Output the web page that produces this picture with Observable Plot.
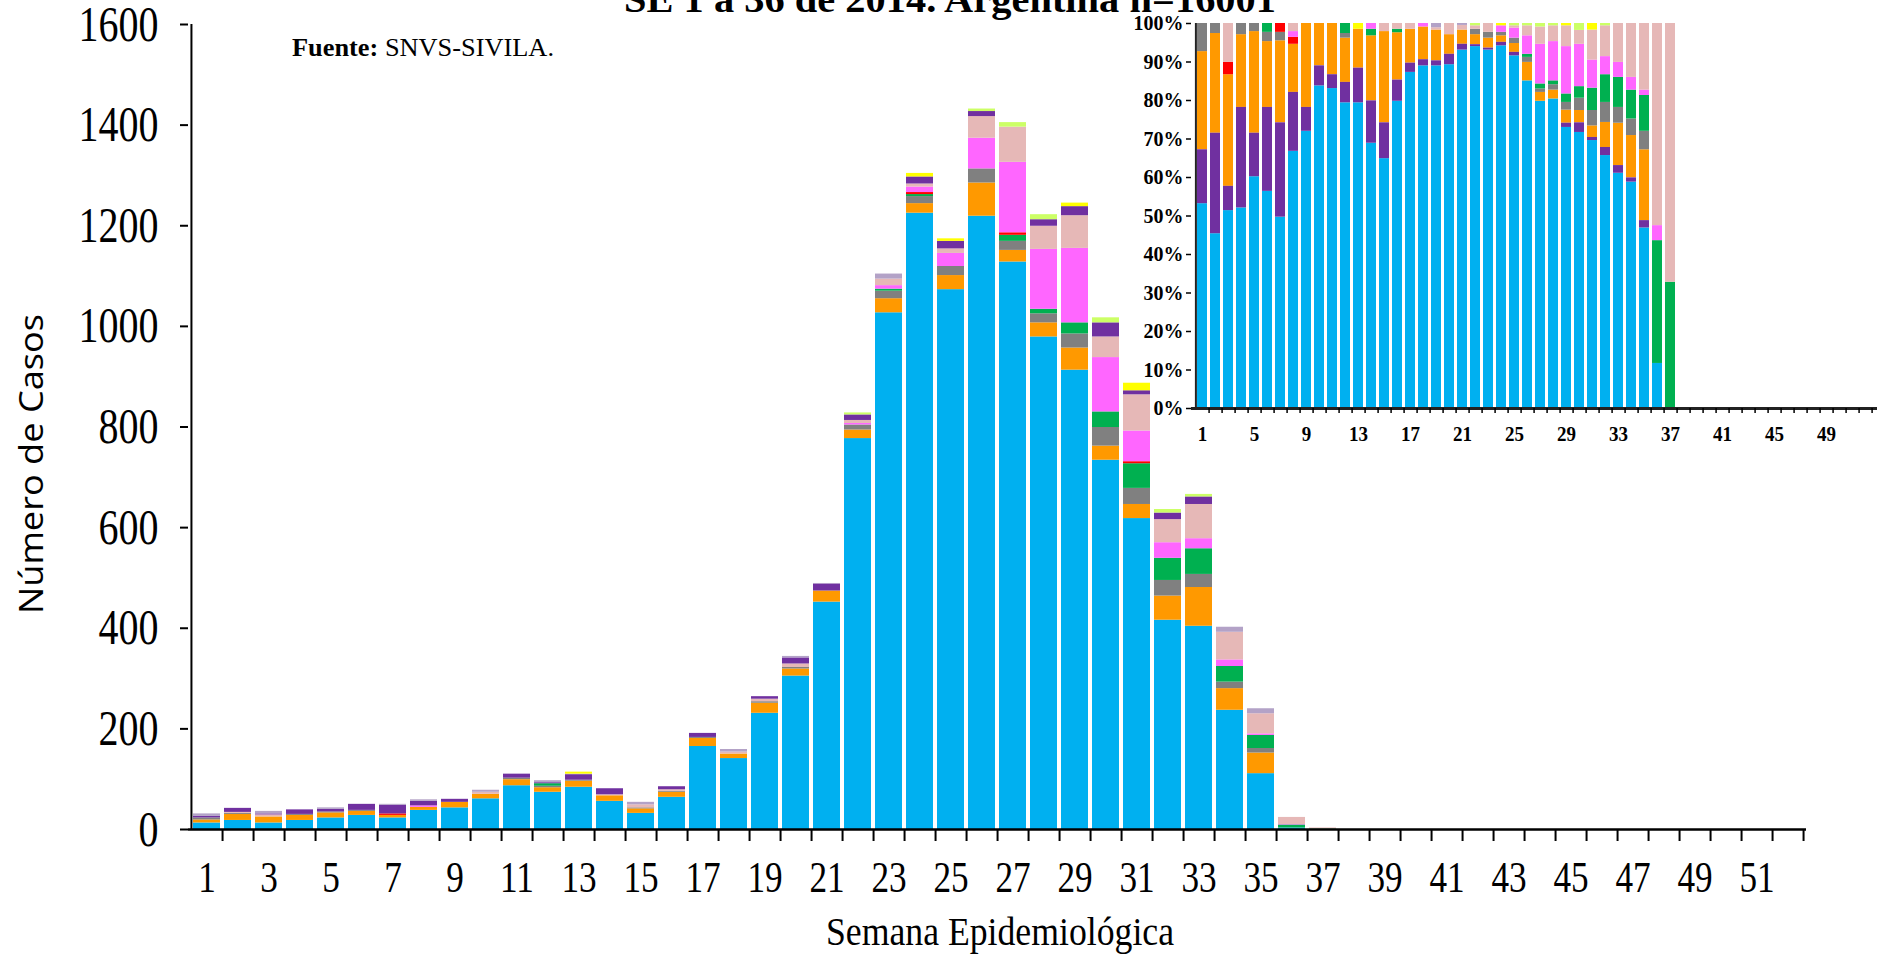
<!DOCTYPE html>
<html><head><meta charset="utf-8">
<script src="https://cdn.jsdelivr.net/npm/d3@7"></script>
<script src="https://cdn.jsdelivr.net/npm/@observablehq/plot@0.6"></script>
<style>
body{margin:0;background:#fff;}
#wrap{position:relative;width:1882px;height:954px;overflow:hidden;background:#fff;}
#wrap svg{position:absolute;top:0;}
</style></head><body><div id="wrap"></div>
<script>
// ---------- categories ----------
const weeks = d3.range(1, 53);                       // semanas epidemiológicas 1..52
const xLabels = d3.range(1, 53, 2);                  // 1,3,...,51
const insetXLabels = d3.range(1, 50, 4);             // 1,5,...,49
const yTicks = [0, 200, 400, 600, 800, 1000, 1200, 1400, 1600];
const pctTicks = [0, 10, 20, 30, 40, 50, 60, 70, 80, 90, 100];
const series = ["celeste","naranja","gris","verde","rojo","fucsia","rosa","violeta","lila","amarillo","verdeClaro"];
const insetOrder = ["celeste","violeta","naranja","gris","verde","rojo","fucsia","rosa","lila","amarillo","verdeClaro"];
const colors = ["#00B0F0","#FF9900","#808080","#00B050","#FF0000","#FF66FF","#E6B8B7","#7030A0","#B3A2C7","#FFFF00","#CCFF66"];

// ---------- main chart: cases per week (SE 1..37) ----------
const celeste   = [13,18,13,18,23,28,23,38,43,61,87,74,84,56,32,64,165,141,231,305,452,777,1027,1225,1073,1219,1128,979,913,734,618,416,404,237,111,3,0];
const naranja   = [6,12,12,10,10,8,5,6,11,9,12,9,12,11,9,10,16,9,20,14,22,17,28,19,28,66,23,28,44,28,28,48,77,43,41,0,0];
const gris      = [4,2,0,2,2,2,0,0,0,0,3,3,2,0,2,2,2,0,3,3,0,10,15,14,18,28,18,18,28,37,32,31,26,13,9,0,0];
const verde     = [0,0,0,0,0,0,0,0,0,0,0,5,0,0,0,0,0,0,0,0,0,0,4,4,0,0,12,9,22,31,49,44,51,31,26,6,1];
const rojo      = [0,0,0,0,0,0,3,0,0,0,0,0,0,0,0,0,0,0,0,0,0,0,0,4,0,0,5,0,0,0,4,0,0,0,0,0,0];
const fucsia    = [0,0,0,0,0,0,0,3,0,0,0,0,0,0,0,0,0,0,0,0,0,3,7,11,26,61,140,119,148,108,61,31,20,13,3,1,0];
const rosa      = [0,2,4,0,0,0,0,0,0,4,0,0,0,2,6,3,0,4,5,7,0,6,13,6,9,43,70,46,65,41,72,46,68,55,40,14,2];
const violeta   = [3,8,2,9,5,12,17,9,6,0,8,2,11,12,0,6,8,0,5,12,14,11,0,14,15,10,0,13,18,28,8,13,15,0,0,0,0];
const lila      = [5,0,5,0,3,0,2,3,0,4,0,4,1,0,5,0,0,5,0,3,1,0,10,0,0,0,0,0,0,0,0,0,0,10,10,0,0];
const amarillo  = [0,0,0,0,0,0,0,0,0,0,0,0,4,0,0,0,0,0,0,0,0,0,0,7,5,0,0,0,7,0,15,0,0,0,0,0,0];
const verdeClaro= [0,0,0,0,0,0,0,0,0,0,0,0,0,0,0,0,0,0,0,0,0,4,0,0,0,5,9,10,0,10,0,7,5,0,0,0,0];

// ---------- inset: % distribution per week (SE 1..37) ----------
const pctCeleste   = [53.2,45.4,51.4,52.1,60.2,56.4,49.7,66.8,72.0,83.8,83.1,79.4,79.4,68.9,64.9,79.8,87.3,89.0,89.0,89.3,93.1,94.0,93.1,94.2,91.6,85.1,79.8,80.4,73.0,71.7,69.6,65.7,61.1,58.8,46.9,11.7,0];
const pctVioleta   = [14.0,26.1,6.3,26.1,11.3,21.8,24.5,15.3,6.2,5.2,3.6,5.3,9.0,11.0,9.3,5.5,2.4,1.6,1.3,2.7,1.5,0.5,0.5,0.9,0.9,0,0,0,1.1,2.5,0.8,2.1,2.0,1.1,1.9,0,0];
const pctNaranja   = [25.5,25.9,29.0,18.9,26.4,17.1,21.3,12.5,21.8,11.0,13.3,11.5,10.1,16.9,23.7,12.3,8.8,8.5,8.0,5.1,3.7,2.6,2.6,1.7,2.3,4.8,2.3,2.3,3.4,3.2,3.0,6.5,11.0,11.0,18.4,0,0];
const pctGris      = [7.3,2.6,0,2.9,2.1,2.4,2.2,0,0,0,0,1.2,0,0,0,0,0,0,0,0,0,1.4,1.5,0.9,1.4,1.3,0.9,1.4,2.0,3.2,4.0,5.2,4.1,4.3,4.8,0,0];
const pctVerde     = [0,0,0,0,0,2.3,0,0,0,0,0,2.6,0,1.7,0,0.9,0,0,0,0,0,0,0,0,0,0.8,1.3,1.0,2.2,3.0,5.8,7.2,7.8,7.5,9.3,31.9,32.8];
const pctRojo      = [0,0,3.2,0,0,0,2.3,1.8,0,0,0,0,0,0,0,0,0,0,0,0,0,0,0,0,0,0,0,0,0,0,0,0,0,0,0,0,0];
const pctFucsia    = [0,0,0,0,0,0,0,1.5,0,0,0,0,0,1.5,0,0,0,0.9,0,0,0,0,0,1.7,2.6,4.8,10.3,10.2,12.3,11.0,7.3,4.7,3.9,3.3,1.4,3.9,0];
const pctRosa      = [0,0,10.1,0,0,0,0,2.1,0,0,0,0,0,0,2.1,1.5,1.5,0,0.6,2.9,1.2,0.9,2.3,0,0.6,2.6,4.5,4.1,5.4,3.6,7.8,8.0,10.1,14.0,17.3,52.5,67.2];
const pctLila      = [0,0,0,0,0,0,0,0,0,0,0,0,0,0,0,0,0,0,1.1,0,0.5,0,0,0,0,0,0,0,0,0,0,0,0,0,0,0,0];
const pctAmarillo  = [0,0,0,0,0,0,0,0,0,0,0,0,1.5,0,0,0,0,0,0,0,0,0,0,0.6,0,0,0,0,0.6,0,1.7,0,0,0,0,0,0];
const pctVerdeClaro= [0,0,0,0,0,0,0,0,0,0,0,0,0,0,0,0,0,0,0,0,0,0.6,0,0,0.6,0.6,0.9,0.6,0,1.8,0,0.6,0,0,0,0,0];

// ---------- texts ----------
const titleText = "SE 1 a 36 de 2014. Argentina n=16001";
const sourceBold = "Fuente:";
const sourceText = " SNVS-SIVILA.";
const yTitle = "Número de Casos";
const xTitle = "Semana Epidemiológica";

// ---------- tidy tables ----------
const mainCols = [celeste,naranja,gris,verde,rojo,fucsia,rosa,violeta,lila,amarillo,verdeClaro];
const mainData = series.flatMap((s, j) => mainCols[j].map((v, i) => ({week: weeks[i], serie: s, value: v})));
const pctCols = [pctCeleste,pctNaranja,pctGris,pctVerde,pctRojo,pctFucsia,pctRosa,pctVioleta,pctLila,pctAmarillo,pctVerdeClaro];
const pctData = series.flatMap((s, j) => pctCols[j].map((v, i) => ({week: weeks[i], serie: s, value: v})));

const serifFont = "'Liberation Serif', 'DejaVu Serif', serif";
const wrap = document.getElementById("wrap");

// narrow the tick labels (the original uses a condensed face) without moving them
function condense(svg, sx) {
  d3.select(svg).selectAll("g[aria-label$='tick label'] text").each(function() {
    if (!this.textContent) return;
    const w = this.getComputedTextLength();
    if (w > 0) {
      this.setAttribute("textLength", (w * sx).toFixed(2));
      this.setAttribute("lengthAdjust", "spacingAndGlyphs");
    }
  });
}

// ---------- main chart ----------
const W = 1882, H = 954, mL = 188, mR = 76, mT = 24, mB = 125;
const step = (W - mL - mR) / weeks.length;
const main = Plot.plot({
  width: W, height: H, marginLeft: mL, marginRight: mR, marginTop: mT, marginBottom: mB,
  style: {fontFamily: serifFont, color: "#000", background: "transparent", overflow: "visible"},
  x: {type: "band", domain: weeks, paddingInner: 0.13, paddingOuter: 0.065, axis: null},
  y: {domain: [0, 1600], axis: null},
  color: {domain: series, range: colors},
  marks: [
    Plot.barY(mainData, {x: "week", y: "value", fill: "serie", order: series}),
    Plot.ruleY([0], {stroke: "#000", strokeWidth: 2.5}),
    Plot.ruleX([weeks[0]], {dx: -step / 2, stroke: "#000", strokeWidth: 2}),
    Plot.axisY({ticks: yTicks, label: null, tickSize: 8, tickPadding: 22, fontSize: 50, strokeWidth: 2, tickFormat: d => String(d)}),
    Plot.axisX({ticks: weeks, label: null, tickSize: 12, strokeWidth: 2, tickFormat: () => "", dx: step / 2}),
    Plot.axisX({ticks: xLabels, label: null, tickSize: 0, tickPadding: 31, fontSize: 44, tickFormat: d => String(d)})
  ]
});
main.style.left = "0px";
wrap.appendChild(main);
condense(main, 0.8);

// ---------- inset ----------
const iLeft = 1100, iW = 782, iH = 460, iL = 91, iR = 5, iT = 23, iB = 52;
const iStep = (iW - iL - iR) / weeks.length;
const inset = Plot.plot({
  width: iW, height: iH, marginLeft: iL, marginRight: iR, marginTop: iT, marginBottom: iB,
  style: {fontFamily: serifFont, color: "#000", background: "transparent", overflow: "visible"},
  x: {type: "band", domain: weeks, paddingInner: 0.2, paddingOuter: 0.1, axis: null},
  y: {domain: [0, 100], axis: null},
  color: {domain: series, range: colors},
  marks: [
    Plot.barY(pctData, {x: "week", y: "value", fill: "serie", order: insetOrder}),
    Plot.ruleY([0], {stroke: "#222", strokeWidth: 3}),
    Plot.ruleX([weeks[0]], {dx: -iStep / 2, stroke: "#222", strokeWidth: 2}),
    Plot.axisY({ticks: pctTicks, label: null, tickSize: 5, tickPadding: 3, fontSize: 21, fontWeight: "bold", strokeWidth: 1.5, tickFormat: d => d + "%"}),
    Plot.axisX({ticks: weeks, label: null, tickSize: 5, strokeWidth: 1.5, tickFormat: () => "", dx: iStep / 2}),
    Plot.axisX({ticks: insetXLabels, label: null, tickSize: 0, tickPadding: 18, fontSize: 20, fontWeight: "bold", tickFormat: d => String(d)})
  ]
});
inset.style.left = iLeft + "px";
wrap.appendChild(inset);
condense(inset, 0.95);

// ---------- titles / annotations ----------
const ann = d3.create("svg").attr("width", W).attr("height", H)
  .style("left", "0px").style("pointer-events", "none");
ann.append("text").attr("x", 950).attr("y", 12).attr("text-anchor", "middle")
  .attr("font-family", serifFont).attr("font-weight", "bold").attr("font-size", 38)
  .attr("textLength", 652).attr("lengthAdjust", "spacingAndGlyphs").text(titleText);
const src = ann.append("text").attr("x", 292).attr("y", 56).attr("font-family", serifFont).attr("font-size", 25)
  .attr("textLength", 262).attr("lengthAdjust", "spacingAndGlyphs");
src.append("tspan").attr("font-weight", "bold").text(sourceBold);
src.append("tspan").text(sourceText);
ann.append("text").attr("transform", "translate(43,464) rotate(-90)").attr("text-anchor", "middle")
  .attr("font-family", "'Open Sans', 'Liberation Sans', sans-serif").attr("font-size", 33)
  .attr("textLength", 300).attr("lengthAdjust", "spacingAndGlyphs").text(yTitle);
ann.append("text").attr("x", 1000).attr("y", 945).attr("text-anchor", "middle")
  .attr("font-family", serifFont).attr("font-size", 40)
  .attr("textLength", 348).attr("lengthAdjust", "spacingAndGlyphs").text(xTitle);
wrap.appendChild(ann.node());
</script></body></html>
